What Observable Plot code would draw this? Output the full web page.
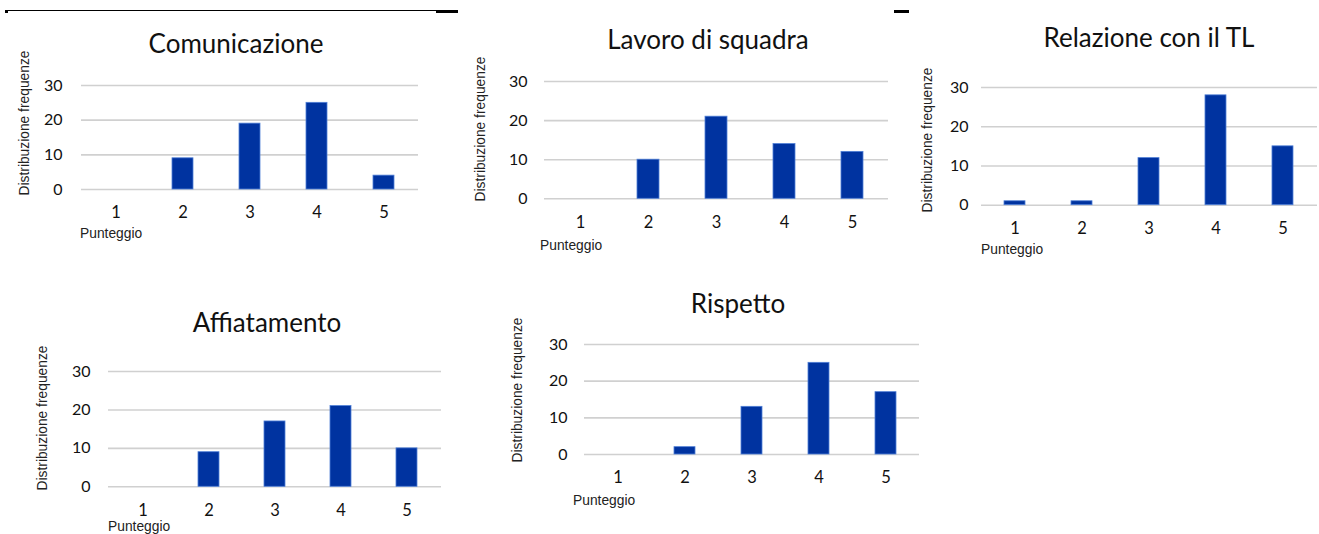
<!DOCTYPE html>
<html>
<head>
<meta charset="utf-8">
<script src="https://cdn.jsdelivr.net/npm/d3@7"></script>
<script src="https://cdn.jsdelivr.net/npm/@observablehq/plot@0.6"></script>
<style>
  html, body { margin: 0; padding: 0; background: #fff; }
  #root { position: relative; width: 1319px; height: 534px; overflow: hidden; }
  .panel-svg { position: absolute; }
  .title { position: absolute; font-family: Lato, "Open Sans", sans-serif; font-size: 26px; color: #111; white-space: nowrap; transform: translate(-50%, -50%); }
  .ylab { position: absolute; font-family: "Liberation Sans", Arial, sans-serif; font-size: 13.8px; color: #222; white-space: nowrap; transform: translate(-50%, -50%) rotate(-90deg); }
  .xlab { position: absolute; font-family: "Liberation Sans", Arial, sans-serif; font-size: 13.8px; color: #222; white-space: nowrap; transform: translateY(-50%); }
  .deco { position: absolute; background: #000; }
</style>
</head>
<body>
<div id="root"></div>
<script>
// ---- data ----
const scores = [1, 2, 3, 4, 5];
const titles = ["Comunicazione", "Lavoro di squadra", "Relazione con il TL", "Affiatamento", "Rispetto"];
const comunicazione = [0, 9, 19, 25, 4];
const lavoroDiSquadra = [0, 10, 21, 14, 12];
const relazioneTL = [1, 1, 12, 28, 15];
const affiatamento = [0, 9, 17, 21, 10];
const rispetto = [0, 2, 13, 25, 17];
const yTicks = [0, 10, 20, 30];
const yLabel = "Distribuzione frequenze";
const xLabel = "Punteggio";
const series = [comunicazione, lavoroDiSquadra, relazioneTL, affiatamento, rispetto];

// ---- layout (plot area in page pixels) ----
const layout = [
  {x0: 81,  x1: 418,  yT: 85,    yB: 189,   titleX: 236,  titleY: 43,  ylabX: 24,  ylabY: 123, xlabX: 80,  xlabY: 233, tickGap: 19},
  {x0: 544, x1: 888,  yT: 81,    yB: 198.3, titleX: 708,  titleY: 39,  ylabX: 480, ylabY: 129, xlabX: 540, xlabY: 245, tickGap: 17},
  {x0: 981, x1: 1317, yT: 87.3,  yB: 205,   titleX: 1149, titleY: 37,  ylabX: 927, ylabY: 140, xlabX: 981, xlabY: 249, tickGap: 13},
  {x0: 108, x1: 441,  yT: 370.7, yB: 486,   titleX: 267,  titleY: 322, ylabX: 42,  ylabY: 418, xlabX: 108, xlabY: 526, tickGap: 18},
  {x0: 584, x1: 919,  yT: 344.3, yB: 454.3, titleX: 738,  titleY: 303, ylabX: 517, ylabY: 390, xlabX: 573, xlabY: 500, tickGap: 17}
];

const barColor = "#0033a0";
const gridColor = "#d0d0d0";
const root = document.getElementById("root");

// decorative top rules seen in the reference
[[8, 10, 428, 1.3], [5, 10, 3, 3], [436, 10, 22, 3], [894, 10, 15, 3]].forEach(([l, t, w, h]) => {
  const d = document.createElement("div");
  d.className = "deco";
  Object.assign(d.style, {left: l + "px", top: t + "px", width: w + "px", height: h + "px"});
  root.appendChild(d);
});

series.forEach((vals, i) => {
  const L = layout[i];
  const data = scores.map((s, j) => ({score: String(s), value: vals[j]}));
  const mL = 50, mR = 2, mT = 10, mB = 40;
  const w = (L.x1 - L.x0) + mL + mR;
  const h = (L.yB - L.yT) + mT + mB;
  const chart = Plot.plot({
    width: w,
    height: h,
    marginLeft: mL,
    marginRight: mR,
    marginTop: mT,
    marginBottom: mB,
    style: {fontFamily: "Lato, 'Open Sans', sans-serif", fontSize: "16px", color: "#111", background: "transparent"},
    x: {domain: scores.map(String), paddingInner: 0.68, paddingOuter: 0.34, label: null},
    y: {domain: [0, 30], label: null},
    marks: [
      Plot.ruleY(yTicks, {stroke: gridColor, strokeWidth: 1.6}),
      Plot.barY(data, {x: "score", y: "value", fill: barColor, stroke: "#4f7fd6", strokeWidth: 0.8}),
      Plot.axisX({tickSize: 0, tickPadding: 17, fontSize: 16.5, label: null}),
      Plot.axisY({ticks: yTicks, tickSize: 0, tickPadding: L.tickGap, fontSize: 16, label: null})
    ]
  });
  chart.classList.add("panel-svg");
  chart.style.left = (L.x0 - mL) + "px";
  chart.style.top = (L.yT - mT) + "px";
  root.appendChild(chart);

  const t = document.createElement("div");
  t.className = "title";
  t.textContent = titles[i];
  t.style.left = L.titleX + "px";
  t.style.top = L.titleY + "px";
  root.appendChild(t);

  const yl = document.createElement("div");
  yl.className = "ylab";
  yl.textContent = yLabel;
  yl.style.left = L.ylabX + "px";
  yl.style.top = L.ylabY + "px";
  root.appendChild(yl);

  const xl = document.createElement("div");
  xl.className = "xlab";
  xl.textContent = xLabel;
  xl.style.left = L.xlabX + "px";
  xl.style.top = L.xlabY + "px";
  root.appendChild(xl);
});
</script>
</body>
</html>
